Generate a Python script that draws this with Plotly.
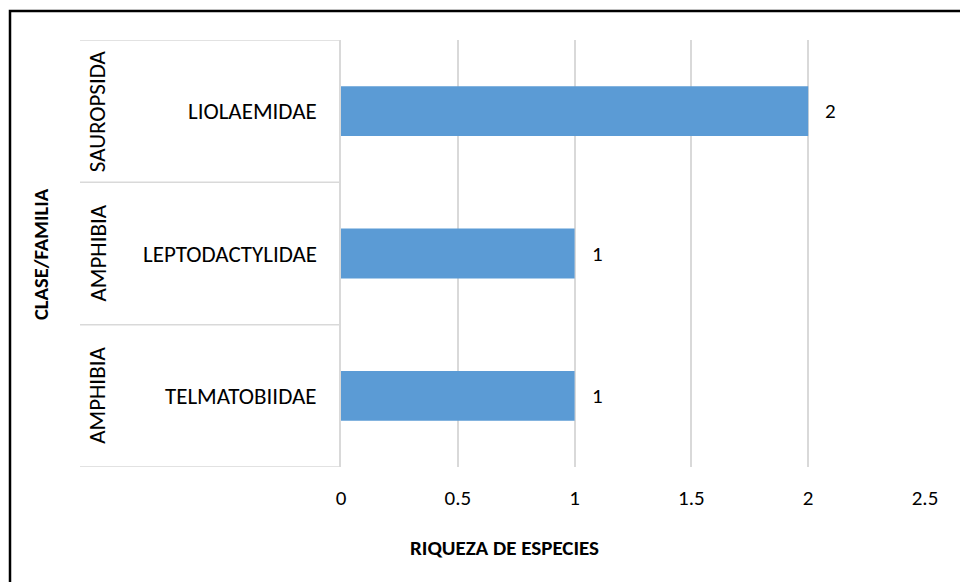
import plotly.graph_objects as go

families = ["TELMATOBIIDAE", "LEPTODACTYLIDAE", "LIOLAEMIDAE"]
classes = ["AMPHIBIA", "AMPHIBIA", "SAUROPSIDA"]
riqueza = [1, 1, 2]
x_ticks = [0, 0.5, 1, 1.5, 2, 2.5]
x_ticklabels = ["0", "0.5", "1", "1.5", "2", "2.5"]

W, H = 960, 582
FONT = "Calibri, Carlito, Lato, sans-serif"
px = lambda v: v / W
py = lambda v: 1 - v / H

fig = go.Figure(go.Bar(
    y=families, x=riqueza, orientation="h",
    marker=dict(color="#5b9bd5", line=dict(width=0)),
    hoverinfo="x+y",
))

annotations = []
for f, c, v in zip(families, classes, riqueza):
    annotations.append(dict(x=v, y=f, xref="x", yref="y", text=str(v), showarrow=False,
                            xanchor="left", yanchor="middle", xshift=15,
                            font=dict(size=21, color="#000000", family=FONT)))
    annotations.append(dict(x=px(319), y=f, xref="paper", yref="y", text=f, showarrow=False,
                            xanchor="right", yanchor="middle",
                            font=dict(size=23, color="#000000", family=FONT)))
    annotations.append(dict(x=px(97), y=f, xref="paper", yref="y", text=c, showarrow=False,
                            xanchor="center", yanchor="middle", textangle=-90,
                            font=dict(size=23, color="#000000", family=FONT)))

annotations.append(dict(x=px(504), y=py(548), xref="paper", yref="paper", text="<b>RIQUEZA DE ESPECIES</b>",
                        xanchor="center", yanchor="middle", showarrow=False,
                        font=dict(size=21, color="#000000", family=FONT)))
annotations.append(dict(x=px(41), y=py(254), xref="paper", yref="paper", text="<b>CLASE/FAMILIA</b>",
                        xanchor="center", yanchor="middle", textangle=-90, showarrow=False,
                        font=dict(size=20.5, color="#000000", family=FONT)))

shapes = []
for b in [-0.5, 0.5, 1.5, 2.5]:
    shapes.append(dict(type="line", xref="paper", yref="y", x0=px(80), x1=px(341), y0=b, y1=b,
                       line=dict(color="#d9d9d9", width=1.5)))
shapes.append(dict(type="rect", xref="paper", yref="paper", x0=px(10), x1=1.02, y0=-0.02, y1=py(11),
                   line=dict(color="#000000", width=2.5), fillcolor="rgba(0,0,0,0)"))

fig.update_layout(
    width=W, height=H,
    margin=dict(l=0, r=0, t=0, b=0),
    paper_bgcolor="white", plot_bgcolor="white",
    showlegend=False,
    bargap=0.65,
    font=dict(family=FONT, size=19, color="#000000"),
    xaxis=dict(domain=[px(341), px(925)], range=[0, 2.5], tickvals=x_ticks, ticktext=x_ticklabels,
               automargin=False,
               showgrid=True, gridcolor="#d9d9d9", gridwidth=1.5, zeroline=False,
               showline=False, ticks="", ticklabelstandoff=16, tickfont=dict(size=21, family=FONT)),
    yaxis=dict(domain=[py(467), py(40)], categoryorder="array", categoryarray=families,
               automargin=False,
               range=[-0.5, 2.5], showticklabels=False, ticks="", showgrid=False, zeroline=False,
               showline=True, linecolor="#d9d9d9", linewidth=1.5),
    annotations=annotations, shapes=shapes,
)

fig.write_html("out.html", config={"displayModeBar": False},
               post_script="document.body.style.margin='0';document.body.style.overflow='hidden';")
